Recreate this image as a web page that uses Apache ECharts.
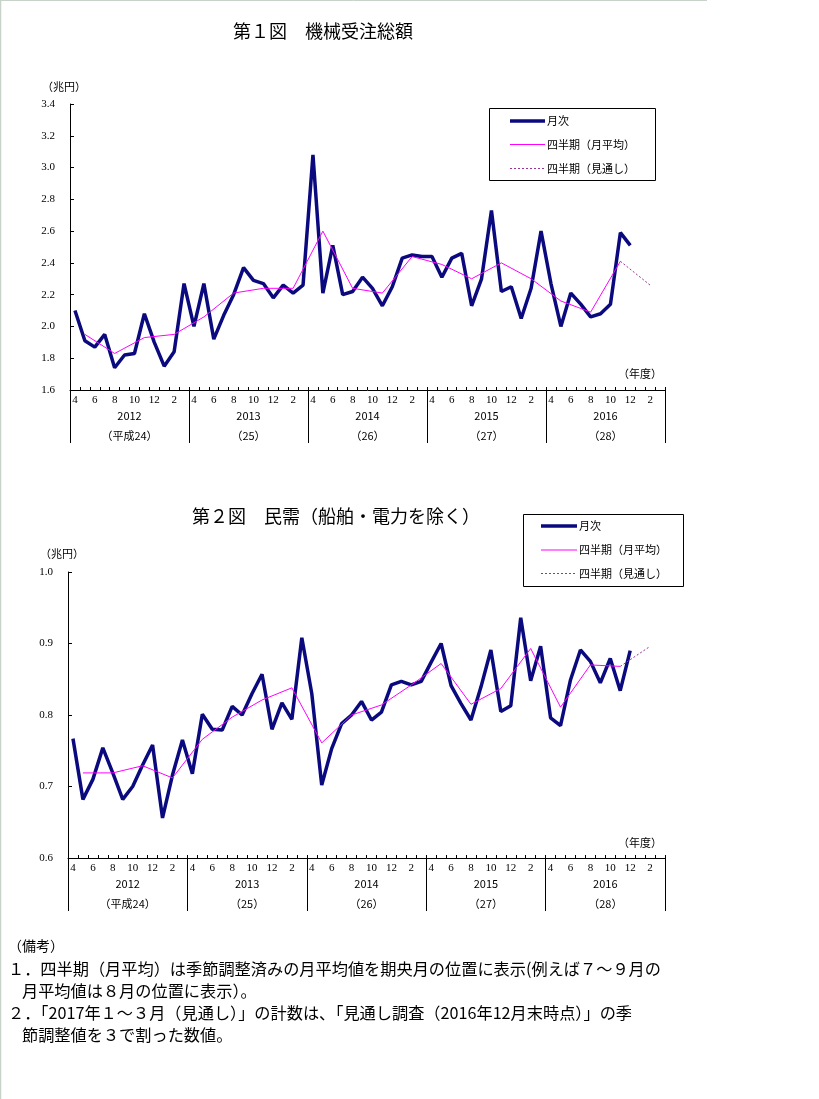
<!DOCTYPE html>
<html><head><meta charset="utf-8">
<script src="https://cdn.jsdelivr.net/npm/echarts@6/dist/echarts.min.js"></script>
<style>html,body{margin:0;padding:0;background:#fff;}#c{width:819px;height:1099px;}</style>
</head><body><div id="c"></div>
<script>
// ---- data ----
var fiscalYears = [2012, 2013, 2014, 2015, 2016];
var yearLabels = ['2012\n（平成24）', '2013\n（25）', '2014\n（26）', '2015\n（27）', '2016\n（28）'];
var monthNums = [4,5,6,7,8,9,10,11,12,1,2,3];
var yTicks1 = {min: 1.6, max: 3.4, step: 0.2};
var yTicks2 = {min: 0.6, max: 1.0, step: 0.1};

// 第1図 機械受注総額 monthly (Apr 2012 - Dec 2016), 兆円
var monthly1 = [2.10,1.91,1.87,1.95,1.74,1.82,1.83,2.08,1.90,1.75,1.84,2.27,
                2.00,2.27,1.92,2.07,2.20,2.37,2.29,2.27,2.18,2.26,2.21,2.26,
                3.08,2.21,2.51,2.20,2.22,2.31,2.24,2.13,2.25,2.43,2.45,2.44,
                2.44,2.31,2.43,2.46,2.13,2.30,2.73,2.22,2.25,2.05,2.24,2.60,
                2.27,2.00,2.21,2.14,2.06,2.08,2.14,2.59,2.51];
// quarterly (monthly average) plotted at mid-month
var quarterly1 = [1.95,1.83,1.93,1.95, 2.06,2.21,2.24,2.24, 2.60,2.24,2.21,2.44,
                  2.39,2.30,2.40,2.30, 2.16,2.09,2.41];
var outlook1 = 2.26; // Jan-Mar 2017 outlook

// 第2図 民需（船舶・電力を除く）
var monthly2 = [0.767,0.682,0.710,0.754,0.719,0.682,0.700,0.730,0.758,0.656,0.716,0.765,
                0.718,0.801,0.780,0.779,0.812,0.800,0.830,0.857,0.780,0.817,0.794,0.908,
                0.830,0.702,0.753,0.788,0.800,0.819,0.793,0.804,0.842,0.847,0.842,0.847,
                0.874,0.900,0.841,0.816,0.793,0.839,0.891,0.805,0.813,0.936,0.848,0.896,
                0.796,0.785,0.849,0.891,0.875,0.845,0.879,0.834,0.890];
var quarterly2 = [0.719,0.719,0.729,0.712, 0.766,0.797,0.821,0.838, 0.761,0.800,0.814,0.842,
                  0.872,0.815,0.837,0.893, 0.811,0.870,0.868];
var outlook2 = 0.896;

// ---- build ----
var cats = [];
fiscalYears.forEach(function(y){ monthNums.forEach(function(m, k){ cats.push(y + '-' + k + '-' + m); }); });
var N = cats.length;
function pad(arr){ var d = []; for (var i=0;i<N;i++) d.push(i<arr.length?arr[i]:null); return d; }
function quarterData(q){ var d=[]; for (var i=0;i<N;i++) d.push(null); q.forEach(function(v,k){ d[1+3*k]=v; }); return d; }
function outlookData(q, o){ var d=[]; for (var i=0;i<N;i++) d.push(null); d[1+3*(q.length-1)] = q[q.length-1]; d[1+3*q.length] = o; return d; }

var NAVY = '#0a0a7e', MAG = '#ff00ff', PURP = '#993399';
var numFont = 'Liberation Serif', jpFont = 'Noto Sans CJK JP';

function xAxes(g){
  return [{
    gridIndex: g, type: 'category', data: cats, boundaryGap: true, position: 'bottom', offset: 0,
    axisLine: {show: true, lineStyle: {color: '#000', width: 1}},
    axisTick: {show: true, inside: true, length: 3, interval: 0, lineStyle: {color: '#000'}},
    axisLabel: {interval: 1, margin: 5, fontSize: 11, fontFamily: numFont, color: '#000',
      formatter: function(v){ return v.split('-')[2]; }},
    splitLine: {show: false}
  }, {
    gridIndex: g, type: 'category', data: yearLabels, boundaryGap: true, position: 'bottom', offset: 0,
    axisLine: {show: false},
    axisTick: {show: true, length: 53, interval: 0, lineStyle: {color: '#000'}},
    axisLabel: {interval: 0, margin: 16, fontSize: 11, lineHeight: 20, fontFamily: jpFont, color: '#000'},
    splitLine: {show: false}
  }];
}
function yAxis(g, t){
  return {gridIndex: g, type: 'value', min: t.min, max: t.max, interval: t.step,
    axisLine: {show: true, lineStyle: {color: '#000', width: 1}},
    axisTick: {show: true, inside: true, length: 4, lineStyle: {color: '#000'}},
    splitLine: {show: false},
    axisLabel: {margin: 15, fontSize: 11, fontFamily: numFont, color: '#000',
      formatter: function(v){ return v.toFixed(1); }}};
}
function seriesFor(g, xi, m, q, o){
  return [
    {type:'line', xAxisIndex: xi, yAxisIndex: g, data: pad(m), symbol:'none', lineStyle:{color: NAVY, width: 3.5}, z: 3},
    {type:'line', xAxisIndex: xi, yAxisIndex: g, data: quarterData(q), connectNulls: true, symbol:'none', lineStyle:{color: MAG, width: 1}, z: 4},
    {type:'line', xAxisIndex: xi, yAxisIndex: g, data: outlookData(q, o), connectNulls: true, symbol:'none', lineStyle:{color: PURP, width: 1, type: [2,2]}, z: 4}
  ];
}
function legend(x, y, w, h, lx0, lx1, rows){
  var els = [{type:'rect', shape:{x:x, y:y, width:w, height:h}, style:{fill:'#fff', stroke:'#000', lineWidth:1}}];
  var styles = [{stroke: NAVY, lineWidth: 3.5}, {stroke: MAG, lineWidth: 1}, {stroke: PURP, lineWidth: 1, lineDash:[2,2]}];
  var texts = ['月次', '四半期（月平均）', '四半期（見通し）'];
  rows.forEach(function(ry, k){
    els.push({type:'line', shape:{x1:lx0, y1:ry, x2:lx1, y2:ry}, style: styles[k]});
    els.push({type:'text', x: lx1 + 2, y: ry, style:{text: texts[k], fontSize: 11, fontFamily: jpFont, fill:'#000', textVerticalAlign:'middle', verticalAlign:'middle'}});
  });
  return els;
}
function txt(x, y, s, size, align){
  return {type:'text', x:x, y:y, style:{text:s, fontSize:size, fontFamily: jpFont, fill:'#000', align: align||'left', textAlign: align||'left', verticalAlign:'middle', textVerticalAlign:'middle'}};
}

var graphics = [
  {type:'line', shape:{x1:0, y1:0.5, x2:707, y2:0.5}, style:{stroke:'#c8d2c8', lineWidth:1}},
  {type:'line', shape:{x1:0.5, y1:0, x2:0.5, y2:1099}, style:{stroke:'#c8d2c8', lineWidth:1.5}},
  txt(233, 31, '第１図　機械受注総額', 18),
  txt(42, 87, '（兆円）', 11),
  txt(662, 374, '（年度）', 11, 'right'),
  txt(192, 516, '第２図　民需（船舶・電力を除く）', 18),
  txt(40, 554, '（兆円）', 11),
  txt(662, 843, '（年度）', 11, 'right'),
  txt(8, 946, '（備考）', 14),
  txt(8, 969, '１．四半期（月平均）は季節調整済みの月平均値を期央月の位置に表示(例えば７～９月の', 16.2),
  txt(22, 991, '月平均値は８月の位置に表示）。', 16.2),
  txt(8, 1013, '２．「2017年１～３月（見通し）」の計数は、「見通し調査（2016年12月末時点）」の季', 16.2),
  txt(22, 1035, '節調整値を３で割った数値。', 16.2)
].concat(legend(489.5, 108.5, 166, 72, 510, 545, [121, 144.5, 168.5]))
 .concat(legend(523.5, 514.5, 160, 72, 541, 577, [526, 550, 573.5]));

var option = {
  animation: false,
  backgroundColor: '#fff',
  grid: [{left: 70, top: 104, width: 595, height: 286}, {left: 68, top: 572, width: 597, height: 286}],
  xAxis: xAxes(0).concat(xAxes(1)),
  yAxis: [yAxis(0, yTicks1), yAxis(1, yTicks2)],
  series: seriesFor(0, 0, monthly1, quarterly1, outlook1).concat(seriesFor(1, 2, monthly2, quarterly2, outlook2)),
  graphic: graphics
};
var chart = echarts.init(document.getElementById('c'), null, {renderer: 'canvas'});
chart.setOption(option);
</script></body></html>
